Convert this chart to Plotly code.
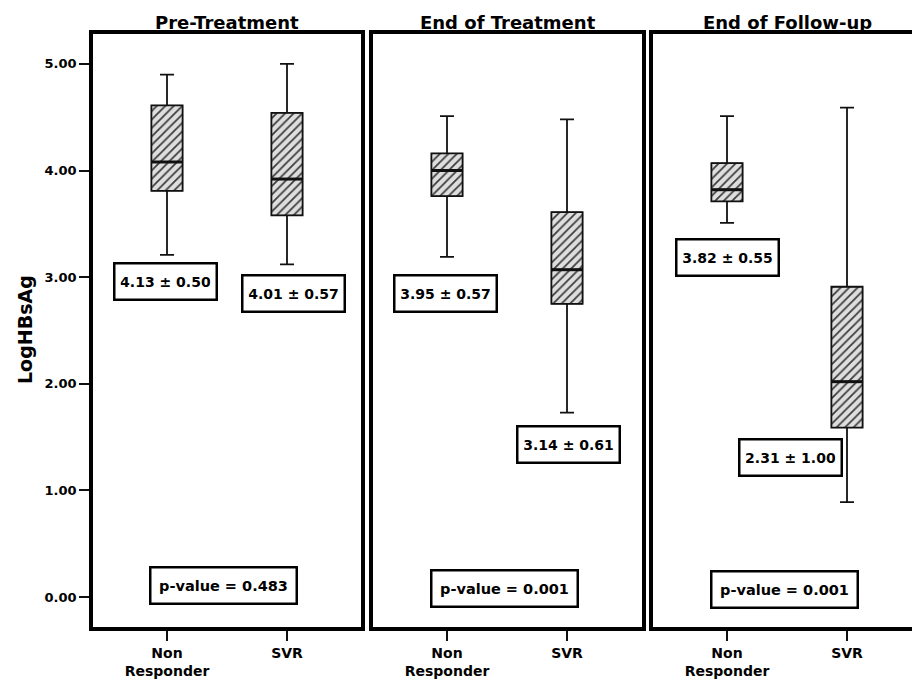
import plotly.graph_objects as go

# ---------------- data ----------------
panels = ["Pre-Treatment", "End of Treatment", "End of Follow-up"]
groups = ["Non<br>Responder", "SVR"]

# box statistics per panel: [Non Responder, SVR]
lower_whisker = [[3.21, 3.12], [3.19, 1.73], [3.51, 0.89]]
q1_vals       = [[3.81, 3.58], [3.76, 2.75], [3.71, 1.59]]
median_vals   = [[4.08, 3.92], [4.00, 3.07], [3.82, 2.02]]
q3_vals       = [[4.61, 4.54], [4.16, 3.61], [4.07, 2.91]]
upper_whisker = [[4.90, 5.00], [4.51, 4.48], [4.51, 4.59]]

mean_sd_text = [["4.13 ± 0.50", "4.01 ± 0.57"],
                ["3.95 ± 0.57", "3.14 ± 0.61"],
                ["3.82 ± 0.55", "2.31 ± 1.00"]]
p_values = ["p-value = 0.483", "p-value = 0.001", "p-value = 0.001"]

y_tick_vals = [0, 1, 2, 3, 4, 5]
y_tick_text = ["0.00", "1.00", "2.00", "3.00", "4.00", "5.00"]
y_title = "LogHBsAg"

# ---------------- layout geometry ----------------
W, H = 920, 683
OFF = 8                      # page body margin compensation
px_left = [93, 373, 653]
px_right = [361, 642, 928]
px_top, px_bottom = 34, 627
first_cat_px = 74.0          # distance of first category from panel left edge
cat_px = 120.0               # pixels between categories
y_range = [-0.28, 5.28]

# label positions (data coords) for the mean ± sd boxes and p-value box
stat_pos = [[(-0.01, 2.96), (1.05, 2.85)],
            [(-0.01, 2.85), (1.01, 1.43)],
            [(0.00, 3.18), (0.53, 1.31)]]
p_pos = [(0.47, 0.11), (0.48, 0.08), (0.48, 0.07)]

BOX_W = 0.26
FONT = "DejaVu Sans"

fig = go.Figure()
xs = [0, 1]

for i in range(3):
    xa = "x" if i == 0 else f"x{i+1}"
    ya = "y" if i == 0 else f"y{i+1}"
    # hatched body (q1 -> q3)
    fig.add_trace(go.Bar(
        x=xs, y=[q3_vals[i][k] - q1_vals[i][k] for k in range(2)],
        base=q1_vals[i], width=BOX_W, xaxis=xa, yaxis=ya,
        marker=dict(color="#dcdcdc",
                    line=dict(color="#555555", width=1),
                    pattern=dict(shape="/", fgcolor="#3a3a3a", bgcolor="#dedede",
                                 size=6, solidity=0.28, fillmode="replace")),
        showlegend=False, hoverinfo="skip"))
    # box plot outline + whiskers
    fig.add_trace(go.Box(
        x=xs, q1=q1_vals[i], median=median_vals[i], q3=q3_vals[i],
        lowerfence=lower_whisker[i], upperfence=upper_whisker[i],
        width=BOX_W, whiskerwidth=0.45, boxpoints=False,
        fillcolor="rgba(0,0,0,0)", line=dict(color="#111111", width=1.8),
        xaxis=xa, yaxis=ya, showlegend=False))
    # thicker median line
    mx, my = [], []
    for k in range(2):
        mx += [xs[k] - BOX_W / 2, xs[k] + BOX_W / 2, None]
        my += [median_vals[i][k], median_vals[i][k], None]
    fig.add_trace(go.Scatter(x=mx, y=my, mode="lines",
                             line=dict(color="#111111", width=3),
                             xaxis=xa, yaxis=ya, showlegend=False, hoverinfo="skip"))

layout = dict(width=W, height=H, margin=dict(l=0, r=0, t=0, b=0),
              paper_bgcolor="white", plot_bgcolor="white", showlegend=False,
              barmode="overlay", boxmode="overlay")

def fx(px):
    return min(1.0, (px - OFF) / W)

def fy(py):
    return 1 - (py - OFF) / H

ydom = [fy(px_bottom), fy(px_top)]
annotations = []
for i in range(3):
    xk = "xaxis" if i == 0 else f"xaxis{i+1}"
    yk = "yaxis" if i == 0 else f"yaxis{i+1}"
    d0, d1 = fx(px_left[i]), fx(px_right[i])
    width_px = (d1 - d0) * W
    xmin = -first_cat_px / cat_px
    xmax = xmin + width_px / cat_px
    layout[xk] = dict(domain=[d0, d1], range=[xmin, xmax],
                      anchor="y" if i == 0 else f"y{i+1}",
                      tickvals=xs, ticktext=groups, ticks="outside", ticklen=10,
                      tickwidth=2, tickcolor="#111111",
                      tickfont=dict(family=FONT, size=14, color="black", weight="bold"),
                      showline=True, linewidth=3.5, linecolor="black", mirror=True,
                      showgrid=False, zeroline=False, fixedrange=True)
    ycfg = dict(domain=ydom, range=y_range, anchor="x" if i == 0 else f"x{i+1}",
                showline=True, linewidth=3.5, linecolor="black",
                mirror=(i < 2), showgrid=False, zeroline=False)
    if i == 0:
        ycfg.update(tickvals=y_tick_vals, ticktext=y_tick_text, ticks="outside",
                    ticklen=10, tickwidth=2, tickcolor="#111111",
                    tickfont=dict(family=FONT, size=13, color="black", weight="bold"))
    else:
        ycfg.update(showticklabels=False, ticks="")
    layout[yk] = ycfg

    xr = "x" if i == 0 else f"x{i+1}"
    yr = "y" if i == 0 else f"y{i+1}"
    # panel title, centred on the visible panel
    title_x = (px_left[i] + min(px_right[i], 921)) / 2
    annotations.append(dict(text=panels[i], xref="paper", x=fx(title_x), xanchor="center",
                            yref="paper", y=fy(35), yanchor="bottom",
                            showarrow=False,
                            font=dict(family=FONT, size=18, color="black", weight="bold")))
    for k in range(2):
        annotations.append(dict(text=mean_sd_text[i][k], xref=xr, yref=yr,
                                x=stat_pos[i][k][0], y=stat_pos[i][k][1],
                                xanchor="center", yanchor="middle",
                                showarrow=False, bgcolor="white",
                                bordercolor="black", borderwidth=2.5, borderpad=5,
                                width=90, height=24,
                                font=dict(family=FONT, size=14, color="black", weight="bold")))
    annotations.append(dict(text=p_values[i], xref=xr, yref=yr,
                            x=p_pos[i][0], y=p_pos[i][1], showarrow=False,
                            xanchor="center", yanchor="middle",
                            bgcolor="white", bordercolor="black", borderwidth=2.5,
                            borderpad=5, width=134, height=24,
                            font=dict(family=FONT, size=14.5, color="black", weight="bold")))

annotations.append(dict(text=y_title, textangle=-90, xref="paper", yref="paper",
                        x=fx(25), y=fy(330), xanchor="center", yanchor="middle",
                        showarrow=False,
                        font=dict(family=FONT, size=19, color="black", weight="bold")))
layout["annotations"] = annotations
fig.update_layout(**layout)
fig.write_html("out.html")
